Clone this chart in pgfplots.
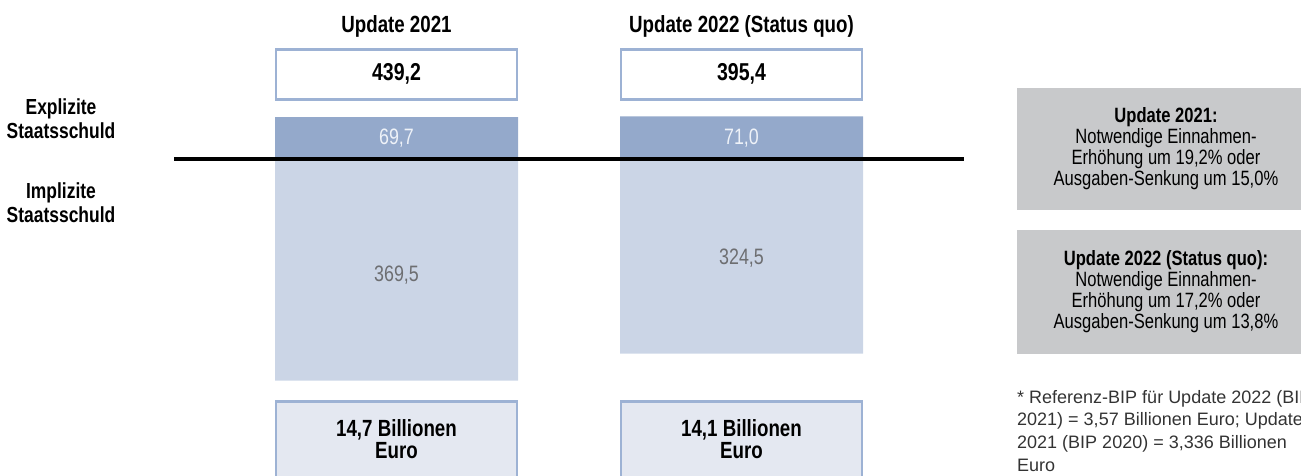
\documentclass[border=0pt]{standalone}
\usepackage{pgfplots}
\pgfplotsset{compat=1.18}
\usepackage{fontspec}
\setmainfont{Liberation Sans}[FakeStretch=0.8]
\newfontfamily\plainfont{Liberation Sans}
\definecolor{expl}{HTML}{94A9CB}
\definecolor{impl}{HTML}{CBD5E6}
\definecolor{boxline}{HTML}{9DB2D4}
\definecolor{boxfill}{HTML}{E4E8F1}
\definecolor{greybox}{HTML}{C8C9CB}
\definecolor{impltext}{HTML}{6D6E71}
\definecolor{expltext}{HTML}{EEF2F8}
\definecolor{foottext}{HTML}{333333}
\begin{document}
\begin{tikzpicture}
\begin{axis}[at={(0,0)}, anchor=south west, scale only axis,
  width=1301pt, height=475pt,
  xmin=0, xmax=1301, ymin=-526.667, ymax=265,
  axis lines=none, clip=false,
  ybar, bar width=243, bar shift=0pt]
% Explizite Staatsschuld
\addplot[fill=expl, draw=none] coordinates {(396.5,69.7) (741.5,71.0)};
% Implizite Staatsschuld
\addplot[fill=impl, draw=none] coordinates {(396.5,-369.5) (741.5,-324.5)};

% zero line
\draw[black, line width=4.5pt] (axis cs:174,0) -- (axis cs:964,0);

% titles
\node[font=\fontsize{23.4}{24}\selectfont\bfseries] at (axis cs:396.5,221) {Update 2021};
\node[font=\fontsize{23.4}{24}\selectfont\bfseries] at (axis cs:741.5,221) {Update 2022 (Status quo)};

% top boxes
\draw[boxline, line width=2.5pt, fill=white] (axis cs:276,182.8) rectangle (axis cs:517,99.5);
\draw[boxline, line width=2.5pt, fill=white] (axis cs:621,182.8) rectangle (axis cs:862,99.5);
\node[font=\fontsize{24.4}{25}\selectfont\bfseries] at (axis cs:396.5,141.2) {439,2};
\node[font=\fontsize{24.4}{25}\selectfont\bfseries] at (axis cs:741.5,141.2) {395,4};

% values in bars
\node[font=\fontsize{22.3}{23}\selectfont, text=expltext] at (axis cs:396.5,35) {69,7};
\node[font=\fontsize{22.3}{23}\selectfont, text=expltext] at (axis cs:741.5,35) {71,0};
\node[font=\fontsize{22.3}{23}\selectfont, text=impltext] at (axis cs:396.5,-193) {369,5};
\node[font=\fontsize{22.3}{23}\selectfont, text=impltext] at (axis cs:741.5,-165) {324,5};

% bottom boxes
\draw[boxline, line width=2.5pt, fill=boxfill] (axis cs:276,-404.5) rectangle (axis cs:517,-545);
\draw[boxline, line width=2.5pt, fill=boxfill] (axis cs:621,-404.5) rectangle (axis cs:862,-545);
\node[font=\fontsize{23.4}{22.5}\selectfont\bfseries, align=center] at (axis cs:396.5,-466.7) {14,7 Billionen\\Euro};
\node[font=\fontsize{23.4}{22.5}\selectfont\bfseries, align=center] at (axis cs:741.5,-466.7) {14,1 Billionen\\Euro};

% left labels
\node[font=\fontsize{21.8}{24}\selectfont\bfseries, align=center] at (axis cs:61,67.5) {Explizite\\Staatsschuld};
\node[font=\fontsize{21.8}{24}\selectfont\bfseries, align=center] at (axis cs:61,-72.5) {Implizite\\Staatsschuld};

% grey boxes
\fill[greybox] (axis cs:1017,117.8) rectangle (axis cs:1320,-85);
\fill[greybox] (axis cs:1017,-118.3) rectangle (axis cs:1320,-325);
\node[font=\fontsize{20.7}{21}\selectfont, align=center] at (axis cs:1166,16.7)
  {\textbf{Update 2021:}\\Notwendige Einnahmen-\\Erhöhung um 19,2\% oder\\Ausgaben-Senkung um 15,0\%};
\node[font=\fontsize{20.7}{21}\selectfont, align=center] at (axis cs:1166,-221.7)
  {\textbf{Update 2022 (Status quo):}\\Notwendige Einnahmen-\\Erhöhung um 17,2\% oder\\Ausgaben-Senkung um 13,8\%};

% footnote
\node[font=\plainfont\fontsize{18}{22.7}\selectfont, align=left, anchor=north west, inner sep=0pt, text=foottext] at (axis cs:1017,-385)
  {* Referenz-BIP für Update 2022 (BIP\\2021) = 3,57 Billionen Euro; Update\\2021 (BIP 2020) = 3,336 Billionen\\Euro};
\end{axis}
\pgfresetboundingbox
\path[use as bounding box] (0,0) rectangle (1301pt,475pt);
\end{tikzpicture}
\end{document}
